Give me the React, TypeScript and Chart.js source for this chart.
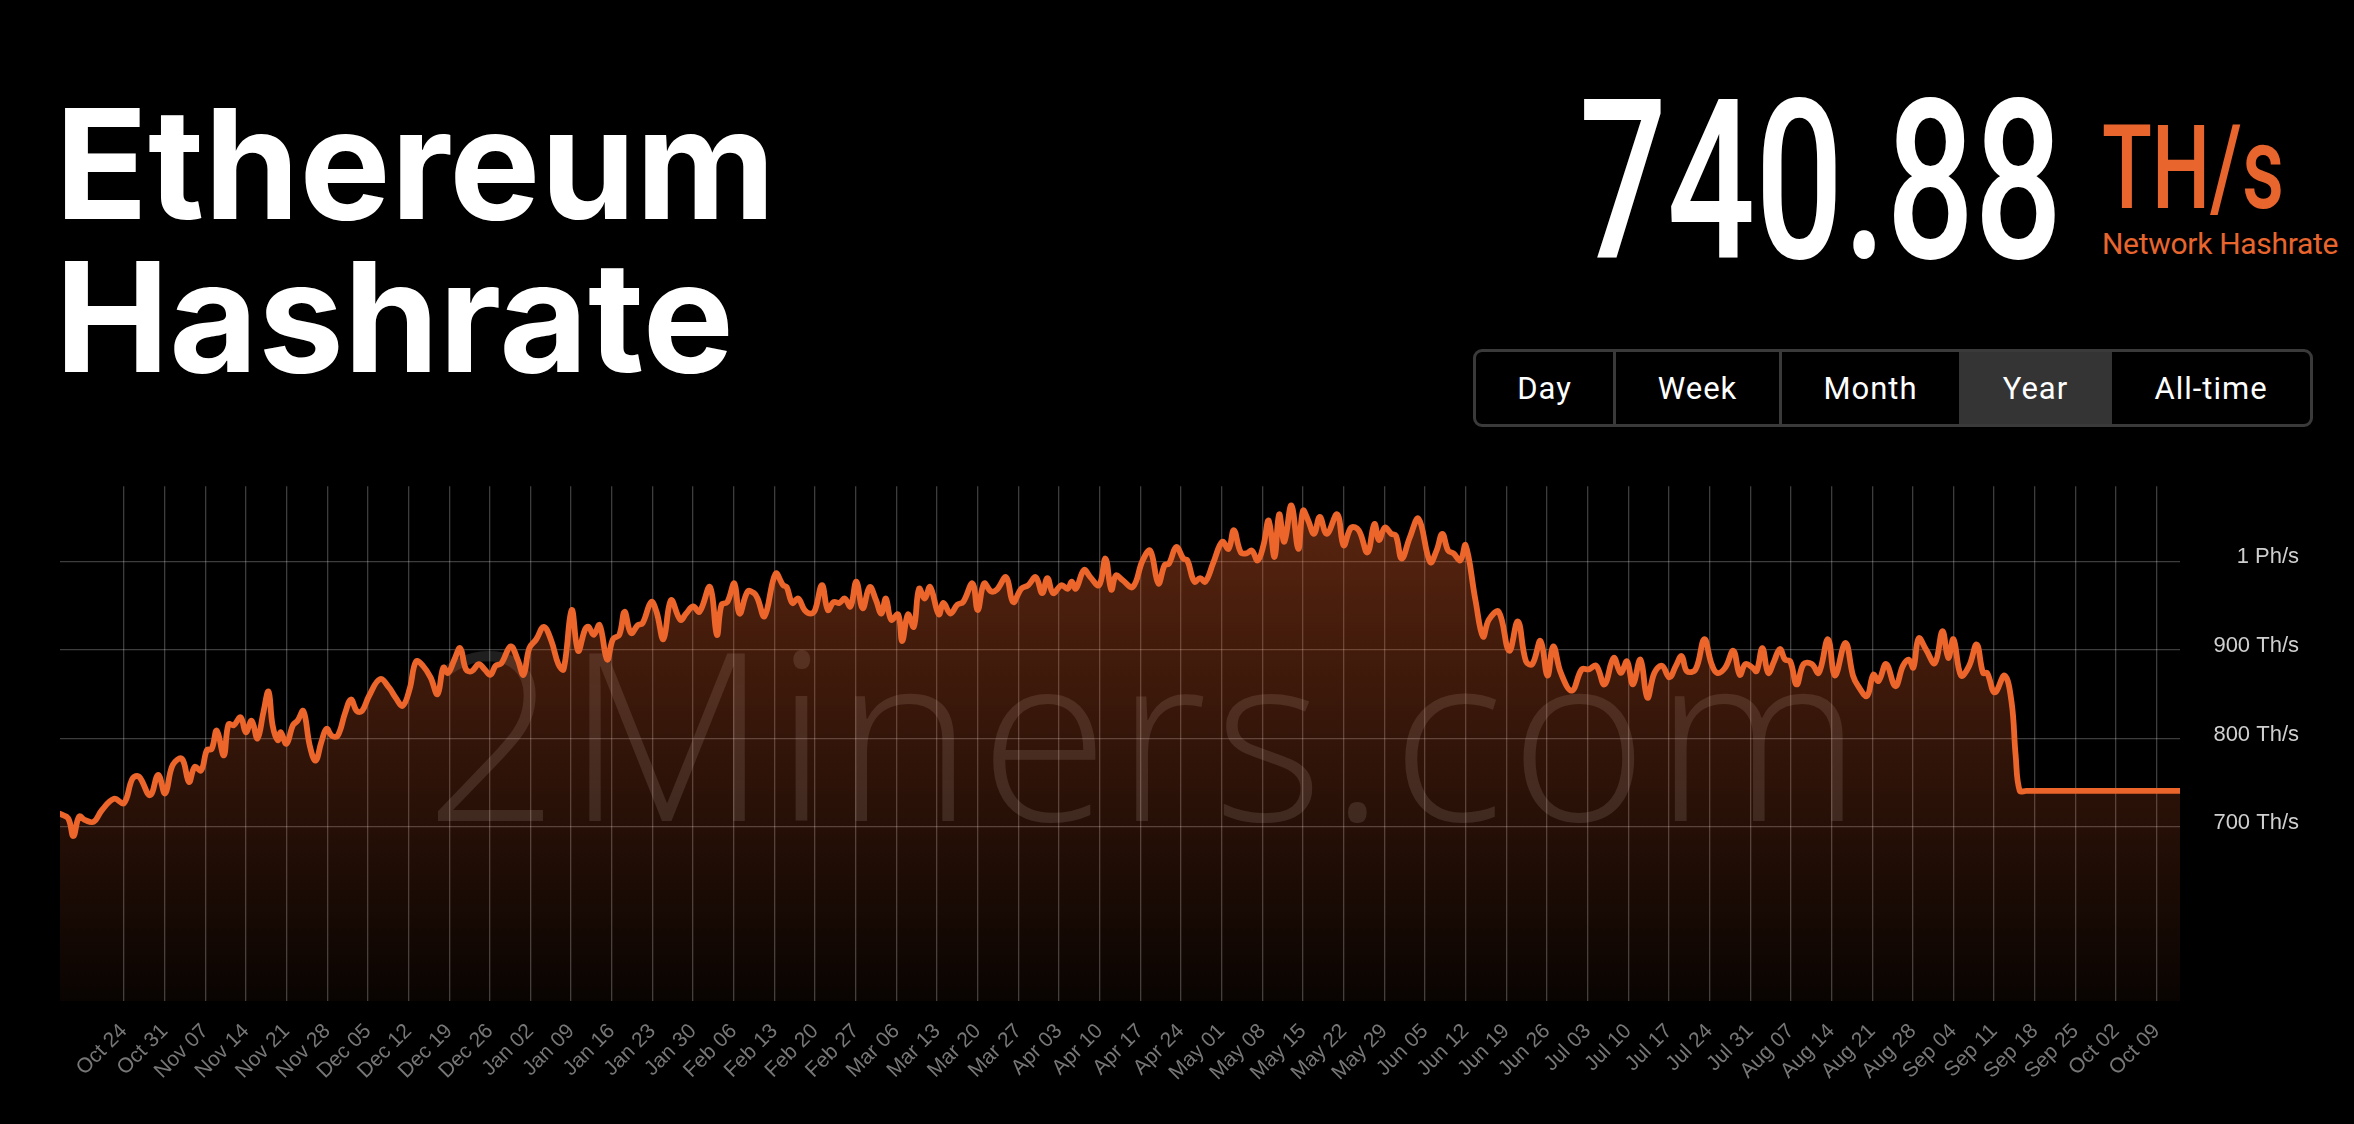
import React, { useEffect, useRef } from 'react';
import { Chart, registerables } from 'chart.js';

Chart.register(...registerables);

// ---------- text content ----------
const titleLines = ['Ethereum', 'Hashrate'];
const currentValue = '740.88';
const currentUnit = 'TH/s';
const currentCaption = 'Network Hashrate';
const periods = ['Day', 'Week', 'Month', 'Year', 'All-time'];
const activePeriod = 'Year';
const watermark = '2Miners.com';

// ---------- axis ticks ----------
const xTickLabels = [
  'Oct 24', 'Oct 31', 'Nov 07', 'Nov 14', 'Nov 21', 'Nov 28', 'Dec 05', 'Dec 12', 'Dec 19', 'Dec 26',
  'Jan 02', 'Jan 09', 'Jan 16', 'Jan 23', 'Jan 30', 'Feb 06', 'Feb 13', 'Feb 20', 'Feb 27', 'Mar 06',
  'Mar 13', 'Mar 20', 'Mar 27', 'Apr 03', 'Apr 10', 'Apr 17', 'Apr 24', 'May 01', 'May 08', 'May 15',
  'May 22', 'May 29', 'Jun 05', 'Jun 12', 'Jun 19', 'Jun 26', 'Jul 03', 'Jul 10', 'Jul 17', 'Jul 24',
  'Jul 31', 'Aug 07', 'Aug 14', 'Aug 21', 'Aug 28', 'Sep 04', 'Sep 11', 'Sep 18', 'Sep 25', 'Oct 02',
  'Oct 09',
];
const firstTickDay = 11; // days after Oct 13 (start of the one-year window)
const tickStepDays = 7;
const xRange = [0, 365];

const yTickValues = [700, 800, 900, 1000];
const yTickLabels = ['700 Th/s', '800 Th/s', '900 Th/s', '1 Ph/s'];
const yRange = [503.8, 1084.7];

// ---------- series: day offset since Oct 13 and hashrate in Th/s ----------
const sampleDay = [
  0, 1.4, 2.3, 3.3, 4.3, 5.8, 7.2, 9.3, 11, 12.5, 13.6, 15.5, 16.9, 18.1, 19.4, 21, 22.2, 23.2, 24.3, 25.3,
  26.1, 27, 28.2, 29, 29.9, 31.1, 32, 33, 34, 35, 35.9, 36.6, 37.5, 38, 39, 40.1, 40.9, 41.9, 43, 44,
  45, 45.9, 46.8, 47.8, 49.1, 50.1, 51.1, 52, 53.2, 55.1, 56.7, 57.8, 59, 60.2, 61.3, 62.5, 63.8, 65, 66, 66.8,
  67.9, 68.9, 69.9, 70.9, 72.1, 73.1, 74.1, 75, 76, 77.6, 78.8, 79.8, 80.8, 82, 83.3, 84.6, 85.8, 86.7, 88.1, 89.2,
  90.4, 91, 91.9, 92.9, 94.2, 95.2, 96.3, 97.2, 98.3, 99.5, 100.3, 101.8, 102.7, 103.9, 105.2, 106.8, 107.8, 109, 110.1, 111.9,
  113.1, 113.9, 114.9, 116.1, 117, 118.4, 119.5, 120.1, 121.3, 123.2, 124.5, 125.1, 126.1, 127.1, 128.2, 129.3, 130, 131.2, 132.2, 133.2,
  134.2, 135.1, 136.1, 137.1, 138.2, 139.4, 140.5, 141.4, 142.2, 143.1, 144.3, 145, 146, 147, 147.9, 148.9, 149.8, 151.3, 152.1, 153.3,
  154.5, 155.5, 157.1, 158, 159.1, 160.3, 161.3, 162.9, 164.1, 165.5, 166.7, 168, 169.1, 170, 171, 172.4, 173.5, 174.2, 174.9, 176.3,
  177.4, 178.9, 180, 181, 181.8, 182.9, 184.7, 186.4, 187.7, 189.1, 190.2, 190.9, 192.2, 193.4, 194.1, 195.3, 196.3, 197.2, 198.6, 200.1,
  201.2, 202.1, 203.3, 204.3, 205.2, 206.2, 207.2, 208.1, 209.1, 209.9, 210.8, 212, 213.2, 214, 214.9, 215.9, 216.9, 218.1, 219.9, 221,
  222.3, 223.6, 225.1, 226.3, 227.1, 228.1, 229.2, 230, 231, 232.4, 233.9, 235.9, 237, 238, 239, 239.9, 241.1, 242, 243.7, 245,
  246, 247.7, 249.5, 251, 252.4, 253.5, 254.9, 256.1, 257.1, 258.4, 260.3, 262, 263.2, 264.5, 265.9, 267.5, 268.7, 269.8, 270.8, 272.1,
  273.3, 274.5, 275.8, 277.1, 278.2, 279.2, 280.1, 281.6, 283.1, 284.3, 285.3, 286.7, 288.1, 289.2, 290.2, 291.4, 292.1, 293.1, 294.1, 295.1,
  296.1, 297, 297.9, 299, 300.2, 301.6, 302.8, 304.4, 305.6, 307.4, 308.7, 309.6, 311.1, 312.2, 313.1, 314.4, 316, 317.3, 318.3, 319.1,
  320, 321.3, 322.8, 324.1, 325.1, 326, 327.3, 328.7, 330, 331.1, 331.8, 333.1, 334.8, 336, 336.7, 337.4, 338.5, 345, 352, 359,
  365,
];
const hashrateThs = [
  715, 710, 690, 712, 708, 706, 719, 732, 727, 755, 757, 736, 759, 738, 770, 777, 751, 768, 764, 787,
  788, 809, 781, 816, 815, 824, 807, 820, 800, 829, 853, 815, 798, 807, 794, 815, 820, 831, 792, 775,
  796, 811, 803, 803, 829, 844, 831, 831, 848, 867, 857, 846, 837, 856, 887, 882, 869, 850, 880, 874,
  889, 902, 878, 876, 884, 878, 872, 882, 885, 904, 889, 872, 902, 912, 926, 910, 884, 878, 945, 899,
  923, 926, 917, 928, 889, 912, 917, 943, 919, 928, 930, 954, 943, 912, 956, 934, 941, 949, 943, 971,
  917, 951, 954, 975, 941, 966, 964, 958, 938, 986, 973, 971, 953, 958, 945, 941, 945, 973, 945, 954,
  953, 958, 949, 977, 947, 971, 956, 941, 958, 934, 940, 910, 940, 926, 969, 958, 971, 940, 953, 941,
  951, 954, 975, 945, 975, 966, 968, 982, 954, 969, 973, 982, 964, 981, 964, 973, 969, 977, 969, 990,
  982, 973, 1003, 968, 984, 979, 971, 1001, 1012, 975, 996, 997, 1016, 1003, 1001, 977, 981, 977, 999, 1022,
  1014, 1035, 1010, 1009, 1012, 1001, 1018, 1046, 1005, 1053, 1022, 1063, 1014, 1057, 1046, 1031, 1050, 1031, 1053, 1018,
  1038, 1035, 1010, 1042, 1024, 1038, 1031, 1029, 1003, 1027, 1048, 999, 1012, 1031, 1012, 1009, 1001, 1018, 956, 915,
  934, 943, 899, 932, 887, 884, 910, 871, 904, 874, 854, 878, 878, 882, 861, 891, 874, 887, 861, 889,
  846, 874, 882, 869, 882, 893, 876, 878, 912, 885, 874, 880, 899, 872, 884, 880, 876, 902, 874, 887,
  901, 889, 887, 861, 884, 884, 874, 912, 871, 908, 871, 859, 848, 872, 865, 884, 859, 882, 889, 880,
  913, 900, 885, 921, 891, 912, 871, 882, 906, 874, 874, 852, 871, 841, 781, 741, 740.88, 740.88, 740.88, 740.88,
  740.88,
];

const ORANGE = '#E8652E';
const LINE = '#EC662C';

export default function App() {
  const ref = useRef<HTMLCanvasElement>(null);

  useEffect(() => {
    document.body.style.margin = '0';
    document.body.style.background = '#000';
    const canvas = ref.current;
    if (!canvas) return;
    const xTickDays = xTickLabels.map((_, k) => firstTickDay + tickStepDays * k);
    const chart = new Chart(canvas, {
      type: 'line',
      data: {
        datasets: [
          {
            data: sampleDay.map((d, i) => ({ x: d, y: hashrateThs[i] })),
            borderColor: LINE,
            borderWidth: 5.8,
            borderJoinStyle: 'round',
            borderCapStyle: 'round',
            tension: 0.4,
            pointRadius: 0,
            fill: 'start',
            backgroundColor: (ctx: any) => {
              const { chart: c } = ctx;
              const area = c.chartArea;
              if (!area) return 'rgba(232,95,40,0.2)';
              const g = c.ctx.createLinearGradient(0, area.top, 0, area.bottom);
              g.addColorStop(0, 'rgba(232,95,40,0.4)');
              g.addColorStop(1, 'rgba(232,95,40,0.04)');
              return g;
            },
          },
        ],
      },
      options: {
        animation: false,
        responsive: false,
        maintainAspectRatio: false,
        layout: { padding: { left: 60, right: 55, top: 42, bottom: 0 } },
        plugins: { legend: { display: false }, tooltip: { enabled: false } },
        scales: {
          x: {
            type: 'linear',
            min: xRange[0],
            max: xRange[1],
            afterBuildTicks: (s: any) => {
              s.ticks = xTickDays.map((v) => ({ value: v }));
            },
            afterFit: (s: any) => {
              s.height = 123;
            },
            ticks: {
              autoSkip: false,
              minRotation: 45,
              maxRotation: 45,
              padding: 18,
              color: '#777777',
              font: { family: '"Liberation Sans", Arial, sans-serif', size: 21 },
              callback: (_v: any, i: number) => xTickLabels[i],
            },
            grid: { color: 'rgba(255,255,255,0.24)', lineWidth: 1.3, drawTicks: false },
            border: { display: false },
          },
          y: {
            position: 'right',
            min: yRange[0],
            max: yRange[1],
            afterBuildTicks: (s: any) => {
              s.ticks = yTickValues.map((v) => ({ value: v }));
            },
            afterFit: (s: any) => {
              s.width = 119;
            },
            ticks: {
              crossAlign: 'far',
              padding: 33,
              labelOffset: -4,
              color: '#cfcfcf',
              font: { family: '"Liberation Sans", Arial, sans-serif', size: 22 },
              callback: (_v: any, i: number) => yTickLabels[i],
            },
            grid: { color: 'rgba(255,255,255,0.24)', lineWidth: 1.3, drawTicks: false },
            border: { display: false },
          },
        },
      },
    } as any);
    return () => chart.destroy();
  }, []);

  const segs = [
    { left: 1476, width: 137 },
    { left: 1616, width: 163 },
    { left: 1782, width: 177 },
    { left: 1959, width: 153 },
    { left: 2112, width: 198 },
  ];

  return (
    <div
      style={{
        position: 'absolute',
        left: 0,
        top: 0,
        width: 2354,
        height: 1124,
        background: '#000',
        overflow: 'hidden',
      }}
    >
      {/* title */}
      <div
        style={{
          position: 'absolute',
          left: 55,
          top: 87,
          fontFamily: 'Inter, "Liberation Sans", Arial, sans-serif',
          fontWeight: 700,
          fontSize: 153,
          lineHeight: '153px',
          color: '#fff',
          letterSpacing: 0,
          whiteSpace: 'nowrap',
        }}
      >
        {titleLines.map((t) => (
          <div key={t}>{t}</div>
        ))}
      </div>

      {/* big value */}
      <div
        style={{
          position: 'absolute',
          left: 1579,
          top: 71,
          fontFamily: 'Roboto, sans-serif',
          fontWeight: 500,
          fontSize: 222,
          lineHeight: '222px',
          color: '#fff',
          transform: 'scaleX(0.698)',
          transformOrigin: 'left top',
          whiteSpace: 'nowrap',
        }}
      >
        {currentValue}
      </div>
      <div
        style={{
          position: 'absolute',
          left: 2102,
          top: 110,
          fontFamily: 'Roboto, sans-serif',
          fontWeight: 500,
          fontSize: 117,
          lineHeight: '117px',
          color: ORANGE,
          transform: 'scaleX(0.7)',
          transformOrigin: 'left top',
          whiteSpace: 'nowrap',
        }}
      >
        {currentUnit}
      </div>
      <div
        style={{
          position: 'absolute',
          left: 2102,
          top: 229,
          fontFamily: 'Roboto, sans-serif',
          fontWeight: 400,
          fontSize: 30,
          lineHeight: '30px',
          letterSpacing: -0.3,
          color: ORANGE,
          whiteSpace: 'nowrap',
        }}
      >
        {currentCaption}
      </div>

      {/* period selector */}
      <div
        style={{
          position: 'absolute',
          left: 1473,
          top: 349,
          width: 840,
          height: 78,
          boxSizing: 'border-box',
          border: '3px solid #3a3a3a',
          borderRadius: 9,
        }}
      />
      <div style={{ position: 'absolute', left: 1613, top: 352, width: 3, height: 72, background: '#3a3a3a' }} />
      <div style={{ position: 'absolute', left: 1779, top: 352, width: 3, height: 72, background: '#3a3a3a' }} />
      {periods.map((p, i) => (
        <div
          key={p}
          style={{
            position: 'absolute',
            left: segs[i].left,
            top: 352,
            width: segs[i].width,
            height: 72,
            background: p === activePeriod ? '#343434' : 'transparent',
            display: 'flex',
            alignItems: 'center',
            justifyContent: 'center',
            fontFamily: 'Roboto, sans-serif',
            fontSize: 31,
            letterSpacing: 1,
            color: '#fff',
          }}
        >
          {p}
        </div>
      ))}

      {/* watermark */}
      <div
        style={{
          position: 'absolute',
          left: 425,
          top: 613,
          fontFamily: '"Open Sans", sans-serif',
          fontWeight: 300,
          fontSize: 235,
          lineHeight: '235px',
          letterSpacing: 6.5,
          color: 'rgba(255,255,255,0.12)',
          whiteSpace: 'nowrap',
        }}
      >
        {watermark}
      </div>

      <canvas
        ref={ref}
        width={2354}
        height={684}
        style={{ position: 'absolute', left: 0, top: 440, width: 2354, height: 684 }}
      />
    </div>
  );
}
